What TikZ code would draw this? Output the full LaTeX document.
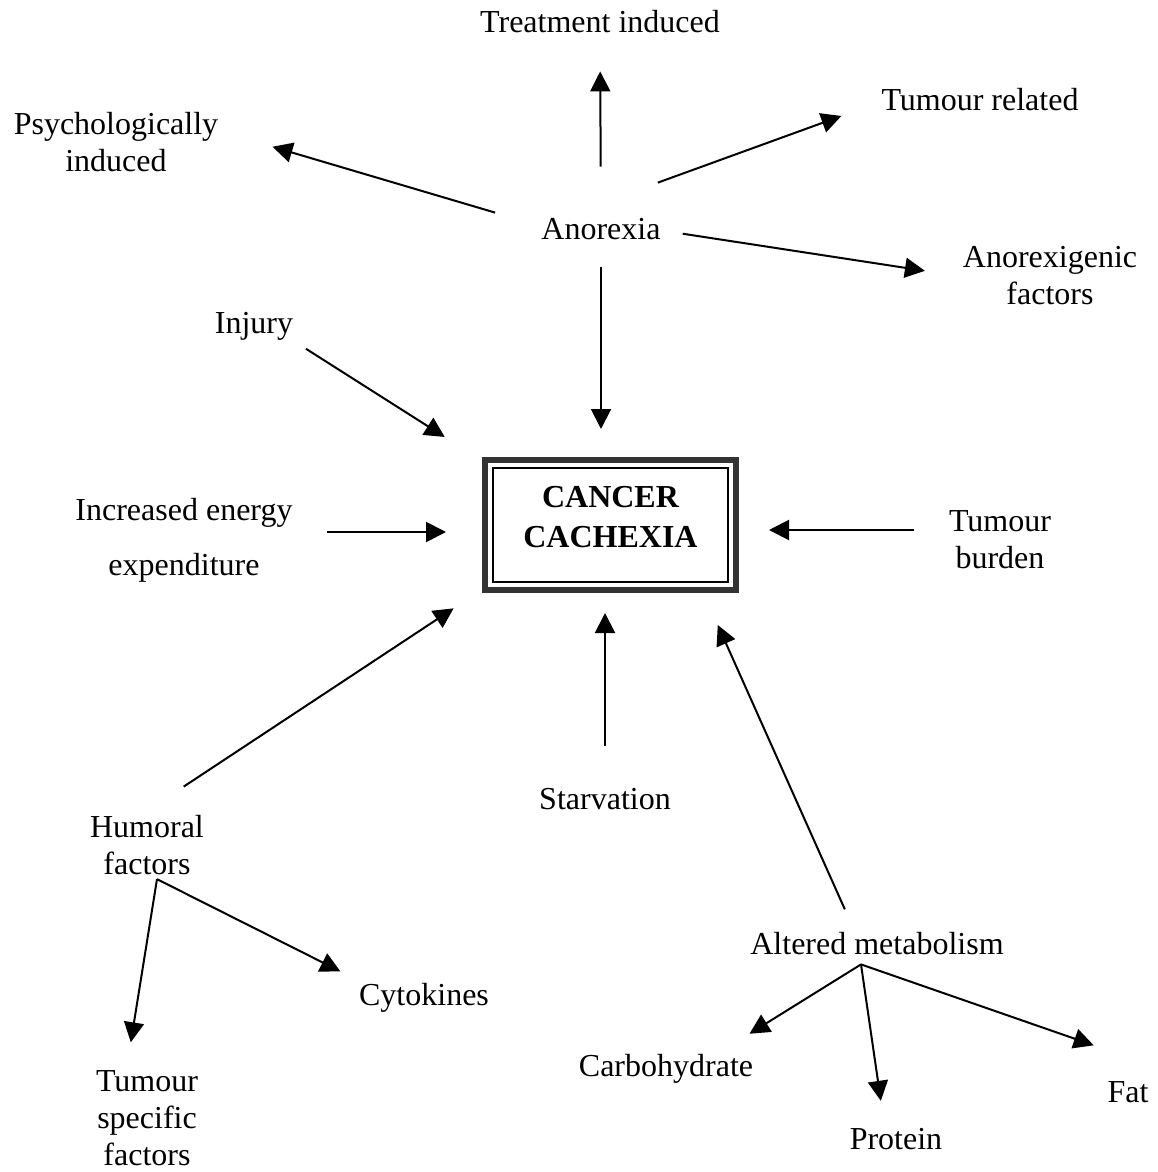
\documentclass[tikz,border=0pt]{standalone}
\usepackage{fontspec}
\setmainfont{Liberation Serif}
\usetikzlibrary{arrows.meta}

\begin{document}
\begin{tikzpicture}[x=0.5pt,y=-0.5pt,
    lbl/.style={font=\fontsize{16}{18.5}\selectfont,align=center,inner sep=2pt},
    one/.style={lbl,text height=11pt,text depth=3pt},
    arr/.style={line width=1pt,-{Triangle[length=10pt,width=10pt]}}]
      \useasboundingbox (0,0) rectangle (1157,1172);
      \node[draw,line width=1pt,minimum width=117.5pt,minimum height=57pt,
        font=\fontsize{16}{20}\selectfont\bfseries,align=center] (cancer) at (610.5,525) {CANCER\\CACHEXIA\rule[-8pt]{0pt}{0pt}};
      \draw[line width=3pt,black!80] ([shift={(-7,-7)}]cancer.north west) rectangle ([shift={(7,7)}]cancer.south east);
      \node[one] (treat) at (600,25) {Treatment induced};
      \node[one] (tumrel) at (980,103) {Tumour related};
      \node[lbl] (psych) at (116,142) {Psychologically\\induced};
      \node[one] (anorexia) at (601,231) {Anorexia};
      \node[lbl] (anorex) at (1050,276) {Anorexigenic\\factors};
      \node[one] (injury) at (254,325) {Injury};
      \node[lbl] (energy) at (184,540) {Increased energy\\[9pt]expenditure};
      \node[lbl] (burden) at (1000,540) {Tumour\\burden};
      \node[one] (starv) at (605,801) {Starvation};
      \node[lbl] (humoral) at (147,845) {Humoral\\factors};
      \node[one] (altered) at (877,946) {Altered metabolism};
      \node[one] (cyto) at (424,997) {Cytokines};
      \node[lbl] (tsf) at (147,1118) {Tumour\\specific\\factors};
      \node[one] (carb) at (666,1068) {Carbohydrate};
      \node[one] (fat) at (1128,1094) {Fat};
      \node[one] (protein) at (896,1141) {Protein};
      % anorexia and what causes it
      \draw[arr,shorten <=23pt,shorten >=14pt] (anorexia.north) -- (treat.south);
      \draw[arr,shorten >=19pt] ([xshift=-3.5pt,yshift=15pt]anorexia.north east) -- (tumrel.west);
      \draw[arr,shorten >=26pt] ([xshift=-21pt]anorexia.north west) -- ([yshift=5pt]psych.east);
      \draw[arr,shorten <=9pt,shorten >=17pt] (anorexia.east) -- (anorex.west);
      % into the box
      \coordinate (eout) at ([yshift=4pt]energy.east);
      \coordinate (bout) at ([yshift=5pt]burden.west);
      \draw[arr,shorten <=9pt,shorten >=19pt] (anorexia.south) -- (anorexia.south |- cancer.north);
      \draw[arr,shorten <=5pt,shorten >=28pt] (injury.south east) -- (cancer.north west);
      \draw[arr,shorten <=15pt,shorten >=23pt] (eout) -- (eout -| cancer.west);
      \draw[arr,shorten <=15.5pt,shorten >=20pt] (bout) -- (bout -| cancer.east);
      \draw[arr,shorten <=22pt,shorten >=23pt] (humoral.north) -- (cancer.south west);
      \draw[arr,shorten <=18.5pt,shorten >=15pt] (starv.north) -- (starv.north |- cancer.south);
      \draw[arr,shorten <=10pt,shorten >=23pt] ([xshift=-12pt]altered.north) -- ([xshift=-15pt]cancer.south east);
      % humoral factors
      \coordinate (hsplit) at ([xshift=5pt]humoral.south);
      \draw[arr,shorten >=12pt] (hsplit) -- ([xshift=-10pt]tsf.north);
      \draw[arr,shorten >=8pt] (hsplit) -- (cyto.north west);
      % altered metabolism
      \coordinate (asplit) at ([xshift=-8pt]altered.south);
      \draw[arr,shorten >=15pt] (asplit) -- ([xshift=29pt]carb.north);
      \draw[arr,shorten >=11pt] (asplit) -- ([xshift=-6pt]protein.north);
      \draw[arr,shorten >=5pt] (asplit) -- ([yshift=13.5pt]fat.north west);
    \end{tikzpicture}
\end{document}
